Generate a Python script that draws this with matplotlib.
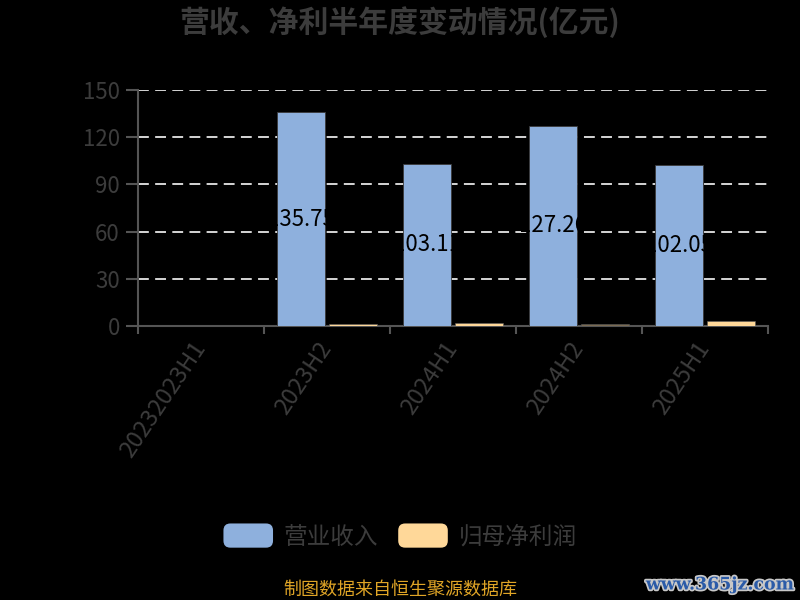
import numpy as np
import matplotlib
matplotlib.use('Agg')
import matplotlib.pyplot as plt
import matplotlib.patches as mpatches
import matplotlib.patheffects as pe
from matplotlib.legend_handler import HandlerPatch

plt.rcParams['font.family'] = ['Noto Sans CJK SC', 'DejaVu Sans']

# ── data ──────────────────────────────────────────────────────────────────────
periods = ['20232023H1', '2023H2', '2024H1', '2024H2', '2025H1']
revenue = [np.nan, 135.75, 103.11, 127.26, 102.05]
net_profit = [np.nan, 1.0, 1.9, 1.1, 3.4]
profit_colors = ['#FFD899', '#FFD899', '#FFD899', '#7A6A52', '#FFD899']

TXT = '#3c3c3c'

fig = plt.figure(figsize=(8, 6), dpi=100, facecolor='black')
ax = fig.add_axes([0.1725, 1 - 326 / 600, 0.96 - 0.1725, (326 - 90) / 600])
ax.set_facecolor('black')

x = np.arange(len(periods))
w = 0.38
off = 0.206
ax.bar(x - off, revenue, w, color='#8EB0DD', edgecolor='#3a3a3a', lw=0.6, zorder=3)
ax.bar(x + off, net_profit, w, color=profit_colors, edgecolor='#5a5a5a', lw=0.4, zorder=3)

for xi, v in zip(x, revenue):
    if np.isnan(v):
        continue
    ax.text(xi - off, v / 2, f'{v:.2f}', ha='center', va='center',
            fontsize=16, color='black', zorder=4)

ax.set_xlim(-0.5, len(periods) - 0.5)
ax.set_ylim(0, 150)
ax.set_yticks(np.arange(0, 151, 30))
ax.grid(axis='y', color='#e6e6e6', ls=(0, (6, 3.5)), lw=1.3, zorder=1)
ax.yaxis.get_gridlines()[0].set_visible(False)

ax.set_xticks(x)
ax.set_xticklabels(periods, rotation=56, ha='right', va='center',
                   rotation_mode='anchor', fontsize=17, color=TXT)
ax.set_xticks(np.arange(-0.5, len(periods)), minor=True)
ax.tick_params(axis='x', which='major', length=0, pad=13)
ax.tick_params(axis='x', which='minor', length=6, color='#555555', width=1.5)
ax.tick_params(axis='y', length=9, color='#555555', width=1.5,
               labelsize=16, labelcolor=TXT, pad=4)

for s in ['top', 'right']:
    ax.spines[s].set_visible(False)
for s in ['left', 'bottom']:
    ax.spines[s].set_color('#555555')
    ax.spines[s].set_linewidth(1.5)

fig.text(0.5, 1 - 22 / 600, '营收、净利半年度变动情况(亿元)', ha='center', va='center',
         fontsize=21.5, fontweight='bold', color=TXT)


class RoundHandler(HandlerPatch):
    def create_artists(self, legend, orig_handle, xdescent, ydescent,
                       width, height, fontsize, trans):
        p = mpatches.FancyBboxPatch((-xdescent, -ydescent), width, height,
                                    boxstyle='round,pad=0,rounding_size=5',
                                    facecolor=orig_handle.get_facecolor(),
                                    edgecolor='none', transform=trans)
        return [p]


handles = [mpatches.Patch(color='#8EB0DD', label='营业收入'),
           mpatches.Patch(color='#FFD899', label='归母净利润')]
fig.legend(handles=handles, loc='center', bbox_to_anchor=(0.5, 1 - 536 / 600),
           ncol=2, frameon=False, fontsize=17, labelcolor=TXT,
           handlelength=2.1, handleheight=1.2, handletextpad=0.45,
           columnspacing=0.85, handler_map={mpatches.Patch: RoundHandler()})

fig.text(0.5, 1 - 590 / 600, '制图数据来自恒生聚源数据库', ha='center', va='center',
         fontsize=13, color='#E0A526')
fig.text(0.993, 1 - 585 / 600, 'www.365jz.com', ha='right', va='center',
         fontsize=12.5, fontweight='bold', family='DejaVu Serif', color='#2B5BA8',
         path_effects=[pe.withStroke(linewidth=2.5, foreground='#c8c8c8')])

fig.savefig('out.png', dpi=100, facecolor='black')
